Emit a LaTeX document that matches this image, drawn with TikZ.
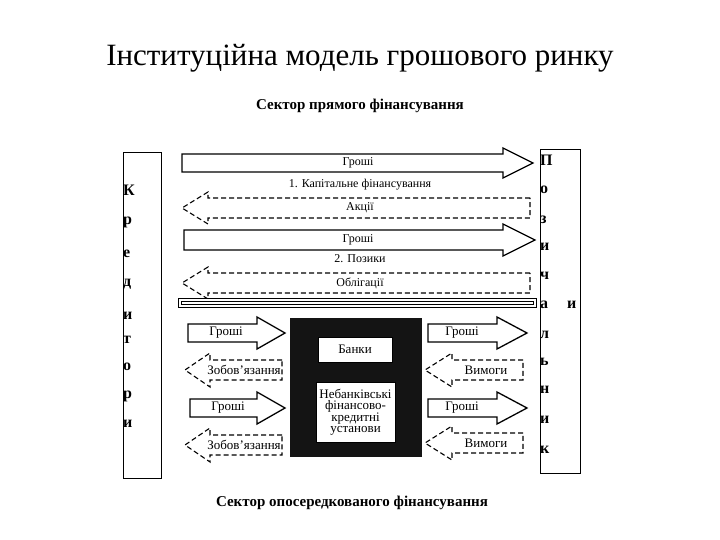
\documentclass[tikz,border=0pt]{standalone}
\usepackage{fontspec}
\setmainfont{Liberation Serif}
\newcommand\myRA[6]{% x1, hx, tip, yc, body half, head half
  \draw[arr] (#1,#4-#5) -- (#2,#4-#5) -- (#2,#4-#6) -- (#3,#4) -- (#2,#4+#6) -- (#2,#4+#5) -- (#1,#4+#5) -- cycle;}
\newcommand\myLA[6]{% x2, hx, tip, yc, body half, head half
  \draw[darr] (#1,#4-#5) -- (#2,#4-#5) -- (#2,#4-#6) -- (#3,#4) -- (#2,#4+#6) -- (#2,#4+#5) -- (#1,#4+#5) -- cycle;}
\begin{document}
\begin{tikzpicture}[x=1pt,y=-1pt,
  arr/.style={draw=black,line width=1.3pt,line join=miter,fill=white},
  darr/.style={draw=black,line width=1.1pt,dash pattern=on 5pt off 3pt,fill=white},
  lab/.style={font=\fontsize{12}{13}\selectfont},
  slab/.style={font=\fontsize{13}{14}\selectfont},
  side/.style={font=\bfseries\fontsize{16}{16}\selectfont,inner sep=0pt,anchor=west},
  head/.style={font=\bfseries\fontsize{15}{16}\selectfont}]
\useasboundingbox (0,0) rectangle (720,540);
\node[font=\fontsize{31}{34}\selectfont] (title) at (360,58) {Інституційна модель грошового ринку};
\node[head] (h1) at (360,106) {Сектор прямого фінансування};
\node[head] (h2) at (352,503) {Сектор опосередкованого фінансування};
% side boxes
\draw[line width=1pt] (123,153) rectangle (161,478);
\draw[line width=1pt] (540,150) rectangle (580,473);
\foreach \t/\y [count=\i] in {К/190,р/222,е/254,д/284,и/316,т/340,о/367,р/396,и/424}
  \node[side] (k\i) at (123,\y) {\t};
\foreach \t/\y [count=\i] in {П/160,о/190,з/220,и/247,ч/276,а/305,л/335,ь/362,н/390,и/420,к/450}
  \node[side] (p\i) at (540,\y) {\t};
\node[side] (pi) at (567,305) {и};
% direct sector arrows
\myRA{182}{503}{533}{163}{9}{15}
\node[lab] (g1) at (358,163) {Гроші};
\node[lab] (t1) at (360,185) {1. Капітальне фінансування};
\myLA{530}{208}{182}{208}{10}{16}
\node[lab] (a1) at (360,208) {Акції};
\myRA{184}{503}{535}{240}{10}{16}
\node[lab] (g2) at (358,240) {Гроші};
\node[lab] (t2) at (360,259) {2. Позики};
\myLA{530}{208}{182}{283}{10}{16}
\node[lab] (o1) at (360,283) {Облігації};
\draw[line width=1pt,double,double distance=1.5pt] (180,300) rectangle (535,306);
% intermediaries
\fill[black!92] (290,318) rectangle (422,457);
\node[draw=black,fill=white,minimum width=74pt,minimum height=25pt,slab] (bank) at (355,349.5) {Банки};
\node[draw=black,fill=white,minimum width=79pt,minimum height=60pt,align=center,font=\fontsize{13}{11.5}\selectfont,inner sep=1pt] (nb) at (355.5,412) {Небанківські\\фінансово-\\кредитні\\установи};
% left small arrows
\myRA{188}{257}{285}{333}{9}{16}
\node[slab] (lg1) at (226,333) {Гроші};
\myLA{282}{210}{185}{370}{10}{17}
\node[slab] (lz1) at (244,370) {Зобов'язання};
\myRA{190}{257}{285}{408}{9}{16}
\node[slab] (lg2) at (228,408) {Гроші};
\myLA{282}{210}{185}{445}{10}{17}
\node[slab] (lz2) at (244,445) {Зобов'язання};
% right small arrows
\myRA{428}{497}{527}{333}{9}{16}
\node[slab] (rg1) at (462,333) {Гроші};
\myLA{523}{452}{425}{370}{10}{17}
\node[slab] (rv1) at (486,370) {Вимоги};
\myRA{428}{497}{527}{408}{9}{16}
\node[slab] (rg2) at (462,408) {Гроші};
\myLA{523}{452}{425}{443}{10}{17}
\node[slab] (rv2) at (486,443) {Вимоги};
\end{tikzpicture}
\end{document}
